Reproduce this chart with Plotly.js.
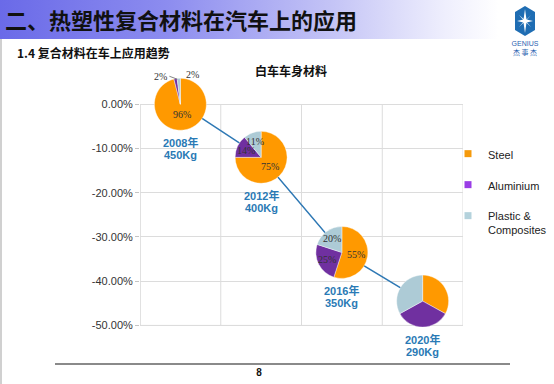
<!DOCTYPE html>
<html>
<head>
<meta charset="utf-8">
<script src="https://cdn.plot.ly/plotly-3.0.1.min.js"></script>
<style>
  html, body { margin:0; padding:0; background:#ffffff; }
  #slide { position:relative; width:554px; height:384px; overflow:hidden; background:#ffffff; }
  #header { position:absolute; left:0; top:0; width:554px; height:39px;
    background:linear-gradient(to right, #6a6ae8 0%, #8c8cef 30%, #c4c4f6 60%, #eeeefd 80%, #ffffff 90%); }
  #htitle { position:absolute; left:5px; top:3px; font-family:"Noto Sans CJK SC"; font-weight:bold; font-size:22px; line-height:32px; color:#111; white-space:nowrap; }
  #subtitle { position:absolute; left:17px; top:44px; font-family:"Noto Sans CJK SC"; font-weight:bold; font-size:12px; line-height:18px; color:#111; white-space:nowrap; }
  #leftedge { position:absolute; left:0; top:39px; width:2px; height:345px; background:#d0d0d0; }
  #footline { position:absolute; left:55px; top:363px; width:455px; height:2px; background:#8a8a8a; }
  #pagenum { position:absolute; left:254px; top:366px; width:10px; text-align:center; font-family:"Liberation Sans"; font-weight:bold; font-size:10px; line-height:14px; color:#111; }
  #logo { position:absolute; left:505px; top:4px; }
  #chart { position:absolute; left:0; top:0; width:554px; height:384px; }
</style>
</head>
<body>
<div id="slide">
  <div id="header"></div>
  <div id="htitle">二、热塑性复合材料在汽车上的应用</div>
  <div id="subtitle">1.4 复合材料在车上应用趋势</div>
  <div id="leftedge"></div>
  <div id="footline"></div>
  <div id="pagenum">8</div>
  <svg id="logo" width="42" height="56" viewBox="0 0 42 56">
    <polygon points="20,2 30,8 30,26 20,32 10,26 10,8" fill="#1f6db3"/>
    <polygon points="20,5 21.5,15.5 28,17 21.5,18.5 20,29 18.5,18.5 12,17 18.5,15.5" fill="#ffffff"/>
    <polygon points="14,11 20.6,16.4 26,11 21,17 26,23 20,17.6 14,23 19,17" fill="#ffffff" opacity="0.85"/>
    <text x="20" y="42" text-anchor="middle" font-family="Liberation Sans" font-size="7" fill="#2a62b0">GENIUS</text>
    <text x="20" y="51" text-anchor="middle" font-family="Noto Sans CJK SC" font-size="7" fill="#2a62b0">杰 事 杰</text>
  </svg>
  <div id="chart"></div>
</div>
<script>
// ---- data ----
var years = ["2008", "2012", "2016", "2020"];
var weightChange = [0, -0.12, -0.335, -0.445];
var yearNames = ["2008年", "2012年", "2016年", "2020年"];
var bodyWeights = ["450Kg", "400Kg", "350Kg", "290Kg"];
var materials = ["Steel", "Aluminium", "Plastic &<br>Composites"];
var steelShare = [96, 75, 55, 33];
var aluminiumShare = [2, 14, 25, 34];
var plasticShare = [2, 11, 20, 33];
var showPieLabels = [true, true, true, false];
var tickVals = [0, -0.1, -0.2, -0.3, -0.4, -0.5];
var tickText = ["0.00%", "-10.00%", "-20.00%", "-30.00%", "-40.00%", "-50.00%"];
var chartTitle = "白车车身材料";

// ---- styles ----
var colors = ["#ff9900", "#7030a0", "#adcbd6"];
var legendColors = ["#f59a0c", "#9a3de6", "#b4d2dc"];
var lineColor = "#2e78b4";
var labelColor = "#2a7ab5";
var gridColor = "#dcdcdc";
var pieTextFont = {family: "Liberation Serif", size: 10, color: "#333333"};

var W = 554, H = 384;
var M = {l: 140, r: 91, t: 60, b: 32, autoexpand: false};
var xRange = [-0.5, years.length - 0.5];
var yRange = [-0.56, 0.1];
var plotW = W - M.l - M.r, plotH = H - M.t - M.b;
var R = 26; // pie radius in px

function xFrac(i) { return (i - xRange[0]) / (xRange[1] - xRange[0]); }
function yFrac(v) { return (v - yRange[0]) / (yRange[1] - yRange[0]); }

var idx = years.map(function (y, j) { return j; });

var traces = [];
traces.push({
  type: "scatter", mode: "lines", x: idx, y: weightChange,
  line: {color: lineColor, width: 1.5}, showlegend: false, hoverinfo: "skip"
});

var annotations = [];

for (var i = 0; i < years.length; i++) {
  var cx = xFrac(i), cy = yFrac(weightChange[i]);
  var rx = R / plotW, ry = R / plotH;
  var vals = [steelShare[i], aluminiumShare[i], plasticShare[i]];
  traces.push({
    type: "pie", values: vals, labels: materials, sort: false,
    direction: "clockwise", rotation: 0,
    domain: {x: [cx - rx, cx + rx], y: [cy - ry, cy + ry]},
    marker: {colors: colors, line: {color: "#ffffff", width: 0.4}},
    textinfo: "none", showlegend: false, hoverinfo: "label+value"
  });

  // slice value labels, placed at each slice's mid-angle
  if (showPieLabels[i]) {
    var total = vals[0] + vals[1] + vals[2];
    var acc = 0, smallCount = 0;
    for (var s = 0; s < vals.length; s++) {
      var mid = (acc + vals[s] / 2) / total * 2 * Math.PI;
      acc += vals[s];
      var share = vals[s] / total;
      if (share < 0.05) {
        var left = smallCount === 0;
        smallCount++;
        annotations.push({
          xref: "x", yref: "y", x: i, y: weightChange[i],
          text: vals[s] + "%", font: pieTextFont,
          showarrow: left, arrowhead: 0, arrowwidth: 0.8, arrowcolor: "#666",
          ax: -8, ay: -3,
          xshift: left ? -3 : 12, yshift: left ? R - 1 : R + 4,
          xanchor: left ? "right" : "center", yanchor: "middle"
        });
      } else {
        var rr = R * (0.7 - 0.3 * share);
        annotations.push({
          xref: "x", yref: "y", x: i, y: weightChange[i],
          text: vals[s] + "%", font: pieTextFont, showarrow: false,
          xshift: Math.sin(mid) * rr, yshift: Math.cos(mid) * rr,
          xanchor: "center", yanchor: "middle"
        });
      }
    }
  }
}

// legend entries
for (var k = 0; k < materials.length; k++) {
  traces.push({
    type: "scatter", mode: "markers", x: [null], y: [null], name: materials[k],
    legendgroup: "g" + k,
    marker: {symbol: "square", size: 7, color: legendColors[k]},
    showlegend: true, hoverinfo: "skip"
  });
}

var shapes = [];
for (var g = 0; g <= years.length; g++) {
  shapes.push({type: "line", xref: "x", yref: "y", x0: g - 0.5, x1: g - 0.5,
    y0: tickVals[0], y1: tickVals[tickVals.length - 1],
    line: {color: g === 0 ? "#c4c4c4" : gridColor, width: 1}, layer: "below"});
}
shapes.push({type: "line", xref: "x", yref: "y", x0: xRange[0], x1: xRange[1],
  y0: tickVals[tickVals.length - 1], y1: tickVals[tickVals.length - 1],
  line: {color: "#c4c4c4", width: 1}, layer: "below"});

var yearFont = {family: "Liberation Sans, Noto Sans CJK SC", size: 11, color: labelColor};
for (var a = 0; a < years.length; a++) {
  annotations.push({
    xref: "x", yref: "y", x: a, y: weightChange[a],
    text: "<b>" + yearNames[a] + "</b>", showarrow: false,
    yanchor: "middle", yshift: -38, font: yearFont
  });
  annotations.push({
    xref: "x", yref: "y", x: a, y: weightChange[a],
    text: "<b>" + bodyWeights[a] + "</b>", showarrow: false,
    yanchor: "middle", yshift: -51, font: yearFont
  });
}

var layout = {
  width: W, height: H, margin: M,
  paper_bgcolor: "rgba(0,0,0,0)", plot_bgcolor: "rgba(0,0,0,0)",
  title: {text: "<b>" + chartTitle + "</b>", xref: "paper", x: (291 - M.l) / plotW, xanchor: "center",
    yref: "container", y: 1 - 72 / H, yanchor: "middle",
    font: {family: "Noto Sans CJK SC", size: 12, color: "#111"}},
  xaxis: {type: "linear", range: xRange, showgrid: false, zeroline: false,
    showline: false, showticklabels: false, ticks: "", fixedrange: true},
  yaxis: {range: yRange, tickvals: tickVals, ticktext: tickText, showgrid: true,
    gridcolor: gridColor, gridwidth: 1, zeroline: false, showline: false,
    ticks: "outside", ticklen: 4, tickcolor: "#c4c4c4",
    tickfont: {family: "Liberation Sans", size: 11, color: "#333"}, fixedrange: true},
  shapes: shapes, annotations: annotations,
  legend: {x: (448 - M.l) / plotW, xanchor: "left", y: 1 - (140 - M.t) / plotH, yanchor: "top",
    font: {family: "Liberation Sans", size: 11, color: "#222"},
    bgcolor: "rgba(0,0,0,0)", tracegroupgap: 12, valign: "top", traceorder: "grouped"},
  showlegend: true
};

Plotly.newPlot("chart", traces, layout, {displayModeBar: false, staticPlot: true});
</script>
</body>
</html>
